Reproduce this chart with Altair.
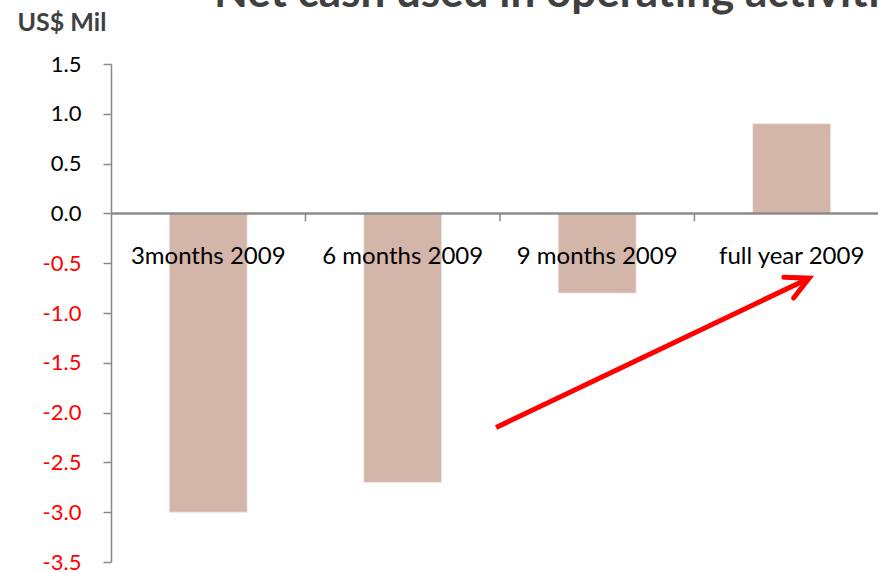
import altair as alt
import pandas as pd

# Net cash used in operating activities, cumulative 2009 (US$ million)
chart_title = ["Net cash used in operating activities"]
periods = ["3months 2009", "6 months 2009", "9 months 2009", "full year 2009"]
cash_used = [-3.0, -2.7, -0.8, 0.9]
y_tick_values = [-3.5, -3.0, -2.5, -2.0, -1.5, -1.0, -0.5, 0.0, 0.5, 1.0, 1.5]
category_boundaries = [1, 2, 3, 4]

# Trend arrow, in category units (x) and US$ Mil (y)
arrow_shaft_x = [1.98, 3.59]
arrow_shaft_y = [-2.15, -0.65]
arrow_head_x = [3.46, 3.59, 3.51]
arrow_head_y = [-0.64, -0.65, -0.85]

FONT = "Lato"
AXIS_GREY = "#888888"
BAR_COLOR = "#D4B5A9"

bars_df = pd.DataFrame({"period": periods, "value": cash_used, "pos": range(len(periods))})
bounds_df = pd.DataFrame({"b": category_boundaries})
shaft_df = pd.DataFrame({"x": arrow_shaft_x, "y": arrow_shaft_y, "o": range(2)})
head_df = pd.DataFrame({"x": arrow_head_x, "y": arrow_head_y, "o": range(3)})
title_df = pd.DataFrame({"t": chart_title})

x_scale = alt.Scale(domain=[0, 3.944], nice=False, zero=False)
y_scale = alt.Scale(domain=[-3.5, 1.5], nice=False, zero=False)

y_axis = alt.Axis(
    values=y_tick_values,
    labelExpr="(datum.value < 0 ? '-' : '') + format(abs(datum.value), '.1f')",
    grid=False,
    tickSize=8,
    tickColor=AXIS_GREY,
    tickWidth=1.5,
    domainColor=AXIS_GREY,
    domainWidth=1.5,
    labelFont=FONT,
    labelFontSize=22,
    labelPadding=22,
    labelColor={"condition": {"test": "datum.value < 0", "value": "#FF0000"}, "value": "#000000"},
    title="US$ Mil",
    titleFont=FONT,
    titleFontSize=25,
    titleFontWeight="bold",
    titleColor="#404040",
    titleAngle=0,
    titleAlign="left",
    titleBaseline="alphabetic",
    titleX=-94,
    titleY=-34,
)

base = alt.Chart(bars_df)

bars = base.mark_rect(color=BAR_COLOR, stroke="#EFE3DE", strokeWidth=0.8).transform_calculate(
    left="datum.pos + 0.3", right="datum.pos + 0.7"
).encode(
    x=alt.X("left:Q", scale=x_scale, axis=None),
    x2="right:Q",
    y=alt.Y("value:Q", scale=y_scale, axis=y_axis),
    y2=alt.datum(0),
)

zero_line = base.mark_rule(color=AXIS_GREY, strokeWidth=1.5).encode(
    x=alt.value(0), x2=alt.value(767), y=alt.datum(0)
)

cat_ticks = alt.Chart(bounds_df).mark_rule(color=AXIS_GREY, strokeWidth=1.5).encode(
    x=alt.X("b:Q", scale=x_scale),
    y=alt.datum(0),
    y2=alt.datum(-0.08),
)

labels = base.mark_text(font=FONT, fontSize=24, color="#000000", baseline="middle", dy=44).transform_calculate(
    mid="datum.pos + 0.5"
).encode(
    x=alt.X("mid:Q", scale=x_scale),
    y=alt.datum(0),
    text="period:N",
)

shaft = alt.Chart(shaft_df).mark_line(color="#FF0000", strokeWidth=5, strokeCap="butt").encode(
    x=alt.X("x:Q", scale=x_scale), y=alt.Y("y:Q", scale=y_scale), order="o:Q"
)
head = alt.Chart(head_df).mark_line(color="#FF0000", strokeWidth=5, strokeCap="round", strokeJoin="miter").encode(
    x=alt.X("x:Q", scale=x_scale), y=alt.Y("y:Q", scale=y_scale), order="o:Q"
)

# Heading sits above the plot area, partly beyond the top edge of the canvas
heading = alt.Chart(title_df).mark_text(
    font=FONT, fontSize=44, fontWeight="bold", color="#404040",
    align="left", baseline="alphabetic",
).encode(x=alt.value(103), y=alt.value(-57), text="t:N")

chart = alt.layer(bars, zero_line, cat_ticks, labels, shaft, head, heading).properties(
    width=767,
    height=498,
    autosize=alt.AutoSizeParams(type="none"),
    padding={"left": 111, "top": 64, "right": 0, "bottom": 10},
).configure_view(stroke=None)

chart.save("out.html", embed_options={"renderer": "svg", "actions": False})
